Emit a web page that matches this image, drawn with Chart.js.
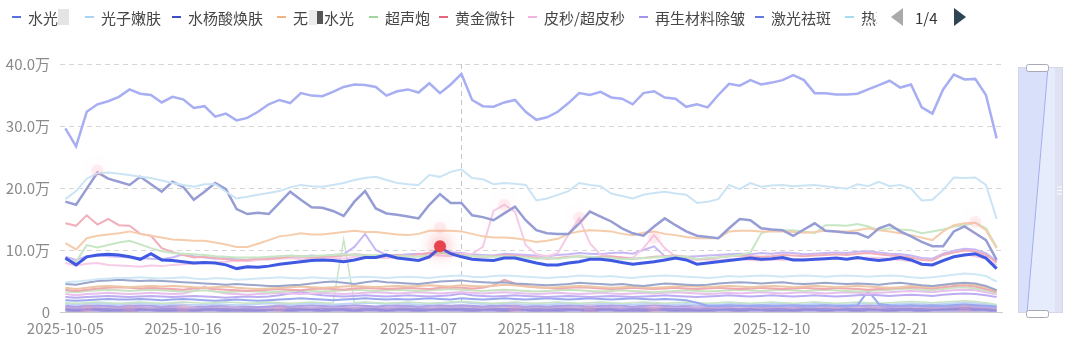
<!DOCTYPE html>
<html>
<head>
<meta charset="utf-8">
<script src="https://cdn.jsdelivr.net/npm/chart.js@4/dist/chart.umd.min.js"></script>
<style>
body { margin: 0; background: #fff; }
#wrap { width: 1080px; height: 360px; }
</style>
</head>
<body>
<div id="wrap"><canvas id="chart" width="1080" height="360"></canvas></div>
<script>
var dates = [
  '2025-10-05','2025-10-06','2025-10-07','2025-10-08','2025-10-09','2025-10-10','2025-10-11','2025-10-12','2025-10-13','2025-10-14',
  '2025-10-15','2025-10-16','2025-10-17','2025-10-18','2025-10-19','2025-10-20','2025-10-21','2025-10-22','2025-10-23','2025-10-24',
  '2025-10-25','2025-10-26','2025-10-27','2025-10-28','2025-10-29','2025-10-30','2025-10-31','2025-11-01','2025-11-02','2025-11-03',
  '2025-11-04','2025-11-05','2025-11-06','2025-11-07','2025-11-08','2025-11-09','2025-11-10','2025-11-11','2025-11-12','2025-11-13',
  '2025-11-14','2025-11-15','2025-11-16','2025-11-17','2025-11-18','2025-11-19','2025-11-20','2025-11-21','2025-11-22','2025-11-23',
  '2025-11-24','2025-11-25','2025-11-26','2025-11-27','2025-11-28','2025-11-29','2025-11-30','2025-12-01','2025-12-02','2025-12-03',
  '2025-12-04','2025-12-05','2025-12-06','2025-12-07','2025-12-08','2025-12-09','2025-12-10','2025-12-11','2025-12-12','2025-12-13',
  '2025-12-14','2025-12-15','2025-12-16','2025-12-17','2025-12-18','2025-12-19','2025-12-20','2025-12-21','2025-12-22','2025-12-23',
  '2025-12-24','2025-12-25','2025-12-26','2025-12-27','2025-12-28','2025-12-29','2025-12-30','2025-12-31'
];

// values in 万
var shuiguang = [
  8.7,7.6,8.9,9.2,9.3,9.2,8.9,8.5,9.4,8.4, 8.3,8.1,7.9,8.0,7.9,7.6,7.0,7.3,7.2,7.4,
  7.7,7.9,8.1,8.3,8.4,8.3,8.1,8.4,8.8,8.8, 9.2,8.7,8.5,8.3,8.9,10.4,9.4,8.9,8.5,8.4,
  8.3,8.7,8.7,8.3,7.9,7.6,7.6,7.9,8.1,8.5, 8.5,8.3,8.0,7.7,7.9,8.1,8.4,8.7,8.4,7.7,
  7.9,8.1,8.3,8.5,8.7,8.5,8.6,8.8,8.4,8.4, 8.5,8.6,8.7,8.5,8.8,8.5,8.3,8.5,8.8,8.4,
  7.7,7.6,8.3,8.9,9.2,9.4,8.7,7.0
];
var guangzi = [
  18.2,19.5,21.5,22.4,22.5,22.3,22.1,21.8,21.6,21.2, 20.8,20.5,20.2,20.6,20.6,19.4,18.3,18.6,18.9,19.2,
  19.5,20.1,20.5,20.3,20.2,20.5,20.8,21.3,21.6,21.8, 21.3,20.8,20.6,20.5,22.1,21.8,22.6,23.0,21.6,21.4,
  20.6,20.8,20.7,20.5,18.0,18.3,18.9,19.5,20.8,20.5, 20.3,19.1,18.7,18.3,18.9,19.2,19.4,19.1,18.9,17.6,
  17.8,18.2,20.5,19.8,20.8,20.2,20.4,20.5,20.3,20.4, 20.5,20.3,20.1,19.9,20.6,20.3,21.0,20.3,20.5,19.9,
  18.0,18.1,19.7,21.7,21.6,21.7,20.5,15.0
];
var shuiyangsuan = [
  17.8,17.3,19.9,22.5,21.5,21.0,20.5,21.8,20.6,19.4, 21.0,20.2,18.1,19.4,20.8,19.8,16.6,15.8,16.0,15.8,
  17.6,19.4,18.1,16.9,16.8,16.3,15.5,17.8,19.5,16.7, 15.9,15.7,15.4,15.1,17.3,19.0,17.6,17.6,15.6,15.3,
  14.8,15.9,17.0,14.8,13.2,12.7,12.6,12.6,14.3,16.2, 15.4,14.6,13.5,12.7,12.3,13.8,15.1,14.0,13.0,12.3,
  12.1,11.9,13.5,15.0,14.8,13.5,13.3,13.2,12.3,13.3, 14.3,13.1,13.0,12.8,12.7,12.0,13.5,14.1,13.0,12.2,
  11.3,10.6,10.6,13.0,13.8,12.7,11.6,8.4
];
var wuzhenShuiguang = [
  11.1,10.1,11.9,12.3,12.5,12.7,13.0,12.6,12.3,12.0, 11.7,11.6,11.5,11.5,11.2,10.9,10.5,10.5,11.0,11.6,
  12.2,12.4,12.7,12.5,12.5,12.7,12.9,13.1,12.9,12.9, 12.7,12.5,12.4,12.6,13.1,13.1,13.1,13.0,12.6,12.2,
  12.0,12.0,11.9,11.6,11.3,11.5,11.8,12.6,13.0,13.2, 13.1,13.0,12.6,12.4,12.8,13.0,12.6,12.4,12.1,11.9,
  11.9,11.9,13.0,13.1,13.1,13.0,13.0,13.0,12.9,12.8, 12.9,13.1,13.0,13.0,13.2,13.5,13.2,13.0,12.7,12.4,
  12.0,11.6,13.0,14.0,14.3,14.4,13.2,10.3
];
var chaoshengpao = [
  8.4,8.1,10.8,10.4,10.8,11.2,11.5,10.9,10.3,9.8, 9.5,9.4,9.3,9.2,9.0,8.9,8.8,8.8,8.8,8.9,
  9.0,9.1,9.0,9.0,9.1,9.2,9.3,9.2,9.1,9.2, 9.1,9.0,9.0,8.9,9.1,9.6,9.3,9.1,9.0,9.0,
  8.9,9.0,8.9,8.8,8.6,8.7,8.6,8.8,9.0,8.9, 8.8,8.7,8.5,8.6,8.7,8.8,8.9,9.0,8.9,8.5,
  8.7,8.8,9.0,9.2,9.6,12.7,13.2,13.2,13.2,13.0, 12.7,14.0,14.0,13.9,14.2,13.8,13.2,13.5,13.3,13.2,
  12.7,13.0,13.3,13.8,14.0,14.4,13.5,10.5
];
var huangjinWeizhen = [
  14.3,13.9,15.6,14.1,15.0,14.0,13.9,12.6,12.3,10.3, 9.7,9.2,8.8,8.9,8.7,8.5,8.3,8.4,8.6,8.5,
  8.7,8.9,9.0,8.8,8.9,9.0,9.1,9.3,9.2,9.0, 9.1,9.2,9.0,9.3,9.5,9.6,9.4,9.2,9.0,8.9,
  9.0,9.2,9.1,8.9,8.8,8.6,8.7,8.9,9.0,8.8, 8.9,9.0,8.8,8.6,8.7,8.9,9.0,9.1,8.9,8.5,
  8.6,8.8,9.0,9.1,9.0,8.9,9.0,9.2,9.1,9.0, 9.1,9.2,9.3,9.2,9.4,9.5,9.3,9.1,9.0,8.8,
  8.4,8.3,9.2,9.6,9.9,9.8,9.2,8.0
];
var pimiao = [
  7.9,7.5,7.8,7.9,7.6,7.5,7.4,7.3,7.5,7.4, 7.6,7.7,7.8,7.9,8.0,8.1,8.3,8.2,8.4,8.5,
  8.6,8.7,8.5,8.6,8.8,8.7,8.6,8.9,9.0,8.8, 8.7,8.8,8.9,9.0,9.2,9.1,9.0,9.3,9.4,10.5,
  16.3,17.3,16.2,10.8,9.3,9.0,9.5,12.5,15.1,11.1, 9.2,8.9,8.8,8.7,10.3,12.4,10.3,8.9,8.6,8.4,
  8.5,8.3,8.5,8.6,8.4,8.3,8.5,8.4,8.6,8.5, 8.4,8.6,8.7,8.5,8.6,8.8,8.7,8.6,8.4,8.2,
  7.8,7.6,8.4,8.9,9.3,9.0,8.6,7.6
];
var zaisheng = [
  8.9,8.4,9.0,9.1,9.0,8.9,8.8,8.7,8.6,8.5, 8.8,9.3,9.0,8.8,8.6,8.7,8.5,8.4,8.6,8.8,
  8.9,9.0,8.9,9.1,9.0,9.2,9.3,10.5,12.6,10.0, 9.2,9.1,9.3,9.4,9.2,9.5,9.6,9.5,9.3,9.2,
  9.1,9.4,9.3,9.2,9.1,9.0,9.2,9.3,9.5,9.4, 9.3,9.5,9.6,9.4,10.0,10.6,9.0,8.7,8.9,9.0,
  9.1,9.2,9.3,9.4,9.3,9.5,9.4,9.6,9.5,9.3, 9.4,9.5,9.6,9.5,9.7,9.8,9.6,9.4,9.3,9.1,
  8.7,8.6,9.4,9.9,10.2,10.1,9.5,8.2
];
var jiguangQuban = [
  29.6,26.7,32.3,33.5,34.0,34.7,35.9,35.2,35.0,33.8, 34.7,34.3,32.9,33.2,31.5,32.0,30.9,31.3,32.3,33.5,
  34.2,33.7,35.3,34.9,34.8,35.5,36.3,36.7,36.6,36.3, 34.9,35.6,35.9,35.4,36.9,35.3,36.7,38.4,34.2,33.2,
  33.1,33.8,34.2,32.3,31.0,31.4,32.3,33.7,35.3,35.0, 35.5,34.6,34.4,33.5,35.3,35.6,34.6,34.4,33.1,33.5,
  33.0,35.0,36.8,36.5,37.4,36.7,37.0,37.4,38.2,37.4, 35.3,35.3,35.1,35.1,35.2,35.9,36.6,37.3,36.2,36.7,
  33.0,32.0,35.9,38.3,37.5,37.6,35.0,28.0
];
var remaji = [
  4.8,4.9,5.1,5.3,5.4,5.5,5.5,5.6,5.5,5.4, 5.5,5.6,5.4,5.3,5.5,5.4,5.2,5.3,5.4,5.5,
  5.6,5.5,5.4,5.6,5.5,5.4,5.5,5.6,5.7,5.6, 5.5,5.6,5.7,5.6,5.5,5.7,5.8,5.9,5.7,5.6,
  5.8,5.9,5.8,5.7,5.6,5.5,5.6,5.7,5.9,5.8, 5.7,5.8,5.6,5.5,5.7,5.8,5.9,5.8,5.7,5.6,
  5.5,5.6,5.8,5.7,5.8,5.9,5.8,5.7,5.8,5.9, 5.8,5.7,5.8,5.9,5.8,5.7,5.8,5.9,5.8,5.6,
  5.5,5.6,5.8,6.0,6.2,6.1,5.8,4.9
];
var more1 = [
  4.5,4.4,4.7,5.0,5.1,5.2,5.1,5.0,5.1,5.0, 4.9,4.8,4.7,4.6,4.5,4.4,4.5,4.4,4.3,4.2,
  4.2,4.3,4.4,4.6,4.8,4.9,4.7,4.5,4.8,5.0, 4.8,4.7,4.6,4.5,4.7,4.9,5.0,5.1,4.9,4.8,
  4.7,4.8,4.6,4.5,4.4,4.3,4.4,4.5,4.7,4.6, 4.5,4.4,4.5,4.3,4.2,4.4,4.6,4.5,4.4,4.3,
  4.4,4.6,4.7,4.8,4.7,4.6,4.7,4.8,4.6,4.5, 4.6,4.7,4.6,4.5,4.6,4.5,4.4,4.6,4.7,4.5,
  4.3,4.2,4.4,4.6,4.7,4.6,4.2,3.5
];
var more2 = [
  3.9,3.7,3.9,4.1,4.2,4.1,4.0,4.1,4.2,4.1, 4.2,4.1,4.0,3.9,4.0,4.1,3.9,3.8,3.7,3.8,
  3.9,4.0,4.1,4.0,3.9,4.0,4.1,4.2,4.1,4.0, 4.1,4.2,4.1,4.2,4.3,4.2,4.1,4.3,4.2,4.1,
  4.2,4.4,4.3,4.1,4.0,3.9,4.0,4.1,4.2,4.1, 4.0,3.9,4.0,4.1,4.0,3.9,4.0,4.1,4.2,4.1,
  4.0,4.1,4.2,4.1,4.0,4.1,4.2,4.1,4.0,4.1, 4.2,4.1,4.0,4.1,4.2,4.1,4.0,3.9,4.0,4.2,
  4.1,4.0,4.3,4.5,4.6,4.4,4.0,3.4
];
var more3 = [
  3.6,3.4,3.6,3.8,3.9,4.0,3.9,3.8,3.9,3.8, 3.7,3.6,3.8,3.9,3.7,3.6,3.5,3.4,3.5,3.6,
  3.7,3.6,3.5,3.7,3.8,3.7,3.6,3.8,3.9,3.8, 3.7,3.8,3.9,3.8,3.7,3.9,4.0,3.9,3.8,3.9,
  4.3,5.2,4.6,4.2,4.0,3.9,3.8,3.9,4.0,3.9, 3.8,3.7,3.8,3.9,3.8,3.7,3.8,3.9,3.8,3.7,
  3.8,3.9,3.8,3.7,3.8,3.9,3.8,3.7,3.8,3.9, 3.8,3.7,3.9,3.8,3.7,3.6,3.7,3.8,3.9,4.0,
  3.9,3.8,4.0,4.2,4.3,4.1,3.7,3.2
];
var more4 = [
  3.3,3.2,3.4,3.5,3.6,3.5,3.4,3.5,3.6,3.5, 3.4,3.3,3.4,3.5,3.3,3.2,3.3,3.4,3.3,3.2,
  3.3,3.4,3.5,3.4,3.3,3.4,3.5,3.6,3.5,3.4, 3.5,3.6,3.5,3.4,3.5,3.6,3.7,3.6,3.5,3.4,
  3.5,3.6,3.5,3.4,3.3,3.4,3.5,3.6,3.5,3.4, 3.3,3.4,3.5,3.4,3.3,3.2,3.3,3.4,3.5,3.4,
  3.3,3.4,3.5,3.6,3.5,3.4,3.5,3.6,3.5,3.4, 3.5,3.6,3.5,3.4,3.3,3.4,3.5,3.6,3.7,3.8,
  3.6,3.5,3.7,3.9,4.0,3.8,3.5,3.0
];
var more5 = [
  2.9,2.7,2.9,3.0,3.1,3.0,2.9,3.0,3.1,3.0, 2.9,3.0,3.4,4.1,3.3,3.0,2.9,2.8,2.9,3.0,
  3.1,3.0,2.9,3.0,3.1,3.0,2.9,3.0,3.1,3.2, 3.1,3.0,3.1,3.2,3.1,3.0,3.1,3.2,3.1,3.0,
  3.1,3.2,3.1,3.0,2.9,3.0,3.1,3.0,2.9,3.0, 3.1,3.0,2.9,3.0,3.1,3.0,3.1,3.2,3.1,3.0,
  2.9,3.0,3.1,3.0,3.1,3.2,3.1,3.0,3.1,3.2, 3.1,3.0,3.1,3.2,3.1,3.0,3.1,3.2,3.3,3.4,
  3.3,3.2,3.4,3.5,3.6,3.5,3.2,2.8
];
var more6 = [
  2.4,2.3,2.4,2.5,2.6,2.5,2.4,2.5,2.6,2.5, 2.4,2.5,2.6,2.5,2.4,2.3,2.4,2.5,2.4,2.5,
  2.7,3.0,3.3,2.9,2.7,2.6,2.5,2.6,2.7,2.6, 2.5,2.6,2.7,2.6,2.5,2.6,2.7,3.0,2.7,2.6,
  2.5,2.6,2.7,2.6,2.5,2.4,2.5,2.6,2.5,2.4, 2.5,2.6,2.5,2.4,2.5,2.6,2.7,2.6,2.5,2.4,
  2.5,2.6,2.7,2.6,2.5,2.6,2.7,2.6,2.5,2.6, 2.7,2.6,2.5,2.6,2.7,2.8,2.7,2.6,2.7,2.8,
  2.7,2.6,2.8,2.9,3.0,2.9,2.7,2.4
];
var more7 = [
  1.9,1.8,1.9,2.0,2.1,2.0,2.0,2.1,2.0,1.9, 2.0,2.1,2.0,1.9,1.8,1.9,2.0,1.9,1.8,1.9,
  2.0,2.1,2.2,2.1,2.0,1.9,2.0,2.1,2.2,2.1, 2.0,2.1,2.0,2.1,2.2,2.1,2.0,2.2,2.1,2.0,
  2.1,2.2,2.1,2.0,2.1,2.2,2.1,2.0,2.1,2.2, 2.1,2.0,2.1,2.2,2.1,2.0,2.1,2.0,1.9,1.5,
  1.0,1.0,1.1,1.0,1.0,1.1,1.0,1.0,1.1,1.0, 1.0,1.1,1.0,1.0,1.1,3.4,1.3,1.1,1.0,1.1,
  1.0,1.1,1.0,1.1,1.2,1.1,1.0,0.9
];
var more8 = [
  1.5,1.4,1.5,1.6,1.5,1.4,1.5,1.6,1.5,1.4, 1.5,1.6,1.5,1.4,1.5,1.6,1.5,1.4,1.5,1.6,
  1.5,1.4,1.5,1.6,1.5,1.4,11.7,1.5,1.6,1.5, 1.4,1.5,1.6,1.5,1.4,1.5,1.6,1.7,1.6,1.5,
  1.4,1.5,1.6,1.5,1.4,1.5,1.6,1.5,1.4,1.5, 1.6,1.5,1.4,1.5,1.6,1.5,1.4,1.5,1.6,1.5,
  1.4,1.5,1.6,1.5,1.4,1.5,1.6,1.5,1.4,1.5, 1.6,1.5,1.4,1.5,1.6,1.5,1.4,1.5,1.6,1.7,
  1.6,1.5,1.6,1.7,1.8,1.7,1.5,1.2
];
var more9 = [
  1.3,1.2,1.3,1.4,1.3,1.2,1.3,1.4,1.3,1.2, 1.3,1.2,1.1,1.2,1.3,1.2,1.1,1.2,1.3,1.4,
  1.3,1.2,1.3,1.4,1.3,1.2,1.3,1.4,1.5,1.4, 1.3,1.4,1.3,1.2,1.3,1.4,1.5,1.6,1.4,1.3,
  1.3,1.4,1.3,1.2,1.3,1.2,1.3,1.4,1.3,1.2, 1.3,1.4,1.3,1.2,1.3,1.4,1.3,1.2,1.3,1.2,
  1.3,1.2,1.3,1.4,1.3,1.2,1.3,1.4,1.3,1.2, 1.3,1.4,1.3,1.2,1.3,1.4,1.3,1.2,1.3,1.4,
  1.3,1.2,1.3,1.4,1.5,1.4,1.3,1.1
];
var more10 = [
  1.0,0.9,1.0,1.1,1.0,0.9,1.0,1.1,1.0,0.9, 1.0,1.1,1.0,0.9,1.0,1.1,1.0,0.9,0.8,0.9,
  1.0,0.9,1.0,1.1,1.0,0.9,1.0,1.1,1.0,0.9, 1.0,1.1,1.0,0.9,1.0,1.1,1.0,1.1,1.0,0.9,
  1.0,1.1,1.0,0.9,1.0,0.9,1.0,1.1,1.0,0.9, 1.0,1.1,1.0,0.9,1.0,1.1,1.0,0.9,1.0,1.1,
  1.0,0.9,1.0,1.1,1.0,0.9,1.0,1.1,1.0,0.9, 1.0,1.1,1.0,0.9,1.0,1.1,1.0,0.9,1.0,1.1,
  1.0,0.9,1.0,1.1,1.2,1.1,1.0,0.8
];
var more11 = [
  0.8,0.7,0.8,0.9,0.8,0.7,0.8,0.8,0.7,0.8, 0.8,0.7,0.7,0.8,0.9,0.8,0.7,0.8,0.7,0.6,
  0.7,0.8,0.8,0.7,0.8,0.9,0.8,0.7,0.8,0.8, 0.7,0.8,0.9,0.8,0.7,0.8,0.8,0.9,0.8,0.7,
  0.8,0.9,0.8,0.7,0.8,0.7,0.8,0.8,0.7,0.8, 0.9,0.8,0.7,0.8,0.8,0.7,0.8,0.9,0.8,0.7,
  0.8,0.7,0.8,0.9,0.8,0.7,0.8,0.8,0.7,0.8, 0.9,0.8,0.7,0.8,0.9,0.8,0.7,0.8,0.8,0.9,
  0.8,0.7,0.8,0.9,1.0,0.9,0.8,0.6
];
var more12 = [
  0.6,0.5,0.6,0.6,0.5,0.6,0.5,0.6,0.6,0.5, 0.5,0.6,0.5,0.6,0.6,0.5,0.6,0.5,0.5,0.6,
  0.6,0.5,0.6,0.7,0.6,0.5,0.6,0.6,0.5,0.6, 0.5,0.6,0.6,0.5,0.6,0.7,0.6,0.6,0.5,0.6,
  0.6,0.5,0.6,0.6,0.5,0.6,0.5,0.6,0.6,0.5, 0.6,0.6,0.5,0.6,0.5,0.6,0.6,0.5,0.6,0.5,
  0.5,0.6,0.6,0.5,0.6,0.6,0.5,0.6,0.5,0.6, 0.6,0.5,0.6,0.6,0.5,0.6,0.6,0.5,0.6,0.6,
  0.5,0.6,0.6,0.7,0.7,0.6,0.6,0.4
];
var more13 = [
  0.4,0.3,0.4,0.4,0.3,0.4,0.3,0.4,0.4,0.3, 0.3,0.4,0.3,0.4,0.4,0.3,0.4,0.3,0.3,0.4,
  0.4,0.3,0.4,0.4,0.3,0.4,0.4,0.3,0.4,0.4, 0.3,0.4,0.4,0.3,0.4,0.5,0.4,0.4,0.3,0.4,
  0.4,0.3,0.4,0.4,0.3,0.4,0.3,0.4,0.4,0.3, 0.4,0.4,0.3,0.4,0.3,0.4,0.4,0.3,0.4,0.3,
  0.3,0.4,0.4,0.3,0.4,0.4,0.3,0.4,0.3,0.4, 0.4,0.3,0.4,0.4,0.3,0.4,0.4,0.3,0.4,0.4,
  0.3,0.4,0.4,0.5,0.5,0.4,0.4,0.3
];
var more14 = [
  0.2,0.1,0.2,0.2,0.1,0.2,0.1,0.2,0.2,0.1, 0.1,0.2,0.1,0.2,0.2,0.1,0.2,0.1,0.1,0.2,
  0.2,0.1,0.2,0.2,0.1,0.2,0.2,0.1,0.2,0.2, 0.1,0.2,0.2,0.1,0.2,0.2,0.2,0.2,0.1,0.2,
  0.2,0.1,0.2,0.2,0.1,0.2,0.1,0.2,0.2,0.1, 0.2,0.2,0.1,0.2,0.1,0.2,0.2,0.1,0.2,0.1,
  0.1,0.2,0.2,0.1,0.2,0.2,0.1,0.2,0.1,0.2, 0.2,0.1,0.2,0.2,0.1,0.2,0.2,0.1,0.2,0.2,
  0.1,0.2,0.2,0.2,0.2,0.2,0.2,0.1
];

// hovered point and soft highlight spots
var hoverIndex = 37;
var redPoint = [{x: '2025-11-09', y: 10.6}];
var glowPoints = [
  {x: '2025-10-08', y: 22.8}, {x: '2025-11-09', y: 13.6}, {x: '2025-11-15', y: 17.3},
  {x: '2025-11-22', y: 15.2}, {x: '2025-11-29', y: 12.0}, {x: '2025-12-29', y: 14.5},
  {x: '2025-10-07', y: 0.3}, {x: '2025-10-11', y: 0.3}, {x: '2025-10-16', y: 0.4},
  {x: '2025-10-25', y: 0.3}, {x: '2025-11-16', y: 0.3}, {x: '2025-11-23', y: 0.4},
  {x: '2025-11-29', y: 0.3}, {x: '2025-12-28', y: 0.3}
];

var series = [
  {label: '水光', data: shuiguang, color: '#3f59e3', legend: '#5b6fe2', width: 3},
  {label: '光子嫩肤', data: guangzi, color: '#cbe4f5', legend: '#a9d3f1', width: 2},
  {label: '水杨酸焕肤', data: shuiyangsuan, color: '#969cd4', legend: '#3f4fc6', width: 2.5},
  {label: '无水光', data: wuzhenShuiguang, color: '#f5cdac', legend: '#f2b384', width: 2},
  {label: '超声炮', data: chaoshengpao, color: '#c6e6c4', legend: '#9fd59f', width: 2},
  {label: '黄金微针', data: huangjinWeizhen, color: '#f0afbb', legend: '#e2667e', width: 2},
  {label: '皮秒/超皮秒', data: pimiao, color: '#f6cbe6', legend: '#f2b3df', width: 2},
  {label: '再生材料除皱', data: zaisheng, color: '#c8b8f6', legend: '#a394ea', width: 2},
  {label: '激光祛斑', data: jiguangQuban, color: '#a7aef1', legend: '#6678e5', width: 2.5},
  {label: '热玛吉', data: remaji, color: '#d0e8f6', legend: '#a6dbf0', width: 2},
  {label: 's11', data: more1, color: '#9aa6ca', width: 2},
  {label: 's12', data: more2, color: '#eec5a6', width: 2},
  {label: 's13', data: more3, color: '#edaab1', width: 2},
  {label: 's14', data: more4, color: '#c8e3c1', width: 2},
  {label: 's15', data: more5, color: '#e7c0ee', width: 2},
  {label: 's16', data: more6, color: '#bcadf2', width: 2},
  {label: 's17', data: more7, color: '#98a9ee', width: 2},
  {label: 's18', data: more8, color: '#c6e4c6', width: 1.5},
  {label: 's19', data: more9, color: '#c1d6f5', width: 2},
  {label: 's20', data: more10, color: '#aba2e6', width: 2},
  {label: 's21', data: more11, color: '#c9aadb', width: 2},
  {label: 's22', data: more12, color: '#9f93dc', width: 2},
  {label: 's23', data: more13, color: '#928bd4', width: 2},
  {label: 's24', data: more14, color: '#ab9fe0', width: 2}
];

var datasets = [{
  label: 'hover',
  data: redPoint,
  showLine: false,
  pointRadius: 6,
  pointBackgroundColor: '#e8434c',
  pointBorderWidth: 0,
  glow: 'rgba(240,60,70,0.9)',
  glowBlur: 16
}, {
  label: 'glow',
  data: glowPoints,
  showLine: false,
  pointRadius: 6,
  pointBackgroundColor: 'rgba(250,170,185,0.2)',
  pointBorderWidth: 0,
  glow: 'rgba(255,120,140,0.5)',
  glowBlur: 14
}];
series.forEach(function (s) {
  datasets.push({
    label: s.label,
    data: s.data,
    borderColor: s.color,
    backgroundColor: s.color,
    legendColor: s.legend,
    borderWidth: s.width,
    pointRadius: 0,
    tension: 0,
    fill: false
  });
});

var fontFamily = '"Noto Sans CJK SC", "Noto Sans", sans-serif';
Chart.defaults.font.family = fontFamily;

// legend row with pager, drawn by hand to keep the cut-off look
var legendX = [12, 85, 172, 277, 369, 439, 528, 639, 755, 845];
var legendPlugin = {
  id: 'pagedLegend',
  afterDraw: function (chart) {
    var c = chart.ctx;
    c.save();
    c.beginPath();
    c.rect(0, 0, 877, 40);
    c.clip();
    c.font = '15px ' + fontFamily;
    c.textBaseline = 'middle';
    for (var i = 0; i < legendX.length; i++) {
      var ds = chart.data.datasets[i + 2];
      var x = legendX[i];
      c.strokeStyle = ds.legendColor;
      c.lineWidth = 2;
      c.beginPath();
      c.moveTo(x, 17);
      c.lineTo(x + 9, 17);
      c.stroke();
      c.fillStyle = '#464646';
      if (i === 3) {
        c.fillText('无', x + 16, 18);
        c.fillStyle = '#ececec';
        c.fillRect(x + 32, 10, 8, 15);
        c.fillStyle = '#555';
        c.fillRect(x + 40, 11, 6, 13);
        c.fillStyle = '#464646';
        c.fillText('水光', x + 47, 18);
      } else {
        c.fillText(ds.label, x + 16, 18);
        if (i === 0) {
          c.fillStyle = '#e4e4e4';
          c.fillRect(x + 46, 9, 11, 16);
        }
      }
    }
    c.restore();

    c.save();
    c.fillStyle = '#aaaaaa';
    c.beginPath();
    c.moveTo(891, 17);
    c.lineTo(903, 8);
    c.lineTo(903, 26);
    c.closePath();
    c.fill();
    c.fillStyle = '#333';
    c.font = '15px ' + fontFamily;
    c.textBaseline = 'middle';
    c.fillText('1/4', 915, 18);
    c.fillStyle = '#2f4554';
    c.beginPath();
    c.moveTo(966, 17);
    c.lineTo(954, 8);
    c.lineTo(954, 26);
    c.closePath();
    c.fill();
    c.restore();
  }
};

// vertical data zoom on the right
var sliderPlugin = {
  id: 'sideSlider',
  afterDraw: function (chart) {
    var c = chart.ctx;
    var top = chart.chartArea.top + 3;
    var bottom = chart.chartArea.bottom + 1;
    c.save();
    c.fillStyle = '#e7ecfc';
    c.fillRect(1019, top, 36, bottom - top);
    c.fillStyle = '#dfe2f0';
    c.fillRect(1055, top, 8, bottom - top);
    c.fillStyle = '#d8e0fa';
    c.beginPath();
    c.moveTo(1019, top);
    c.lineTo(1048, top);
    c.lineTo(1027, bottom);
    c.lineTo(1019, bottom);
    c.closePath();
    c.fill();
    c.strokeStyle = '#a3b0f0';
    c.lineWidth = 1;
    c.beginPath();
    c.moveTo(1048, top);
    c.lineTo(1027, bottom);
    c.stroke();
    c.strokeStyle = '#d3d7e8';
    c.strokeRect(1018.5, top + 0.5, 44, bottom - top - 1);
    c.strokeStyle = '#fff';
    for (var k = 0; k < 3; k++) {
      c.beginPath();
      c.moveTo(1057, 187 + k * 3.5);
      c.lineTo(1062, 187 + k * 3.5);
      c.stroke();
    }
    [top - 3, bottom - 3].forEach(function (y) {
      c.fillStyle = '#fff';
      c.strokeStyle = '#a8aab8';
      c.beginPath();
      c.roundRect(1026.5, y + 0.5, 22, 7, 2);
      c.fill();
      c.stroke();
    });
    c.restore();
  }
};

var crosshairPlugin = {
  id: 'crosshair',
  beforeDatasetsDraw: function (chart) {
    var c = chart.ctx;
    var x = chart.scales.x.getPixelForValue(hoverIndex);
    c.save();
    c.strokeStyle = '#c4c4c4';
    c.lineWidth = 1;
    c.setLineDash([5, 4]);
    c.beginPath();
    c.moveTo(Math.round(x) + 0.5, chart.chartArea.top);
    c.lineTo(Math.round(x) + 0.5, chart.chartArea.bottom);
    c.stroke();
    c.restore();
  }
};

var glowPlugin = {
  id: 'glow',
  beforeDatasetDraw: function (chart, args) {
    var ds = chart.data.datasets[args.index];
    if (ds.glow) {
      chart.ctx.save();
      chart.ctx.shadowColor = ds.glow;
      chart.ctx.shadowBlur = ds.glowBlur;
    }
  },
  afterDatasetDraw: function (chart, args) {
    if (chart.data.datasets[args.index].glow) chart.ctx.restore();
  }
};

var ctx = document.getElementById('chart').getContext('2d');
var chart = new Chart(ctx, {
  type: 'line',
  data: {labels: dates, datasets: datasets},
  options: {
    responsive: false,
    animation: false,
    layout: {padding: {top: 64, right: 78, left: 0, bottom: 0}},
    plugins: {legend: {display: false}, tooltip: {enabled: false}},
    scales: {
      x: {
        offset: true,
        grid: {display: false, drawTicks: false},
        border: {display: true, color: '#cccccc'},
        ticks: {
          autoSkip: false,
          maxRotation: 0,
          minRotation: 0,
          padding: 7,
          color: '#8a8a8a',
          font: {size: 15},
          callback: function (v, i) { return i % 11 === 0 ? dates[i] : ''; }
        },
        afterFit: function (s) { s.height = 48; }
      },
      y: {
        min: 0,
        max: 40,
        grid: {color: '#d6d6d6', drawTicks: false},
        border: {display: false, dash: [5, 4]},
        ticks: {
          stepSize: 10,
          padding: 10,
          color: '#8a8a8a',
          font: {size: 15},
          callback: function (v) { return v === 0 ? '0' : v.toFixed(1) + '万'; }
        },
        afterFit: function (s) { s.width = 60; }
      }
    }
  },
  plugins: [glowPlugin, crosshairPlugin, legendPlugin, sliderPlugin]
});
</script>
</body>
</html>
